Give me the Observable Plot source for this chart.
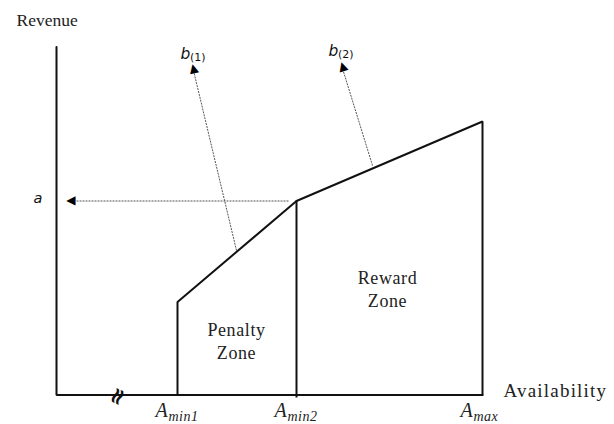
<!DOCTYPE html>
<html><head><meta charset="utf-8">
<script src="https://cdn.jsdelivr.net/npm/d3@7"></script>
<script src="https://cdn.jsdelivr.net/npm/@observablehq/plot@0.6"></script>
<style>
body{margin:0;background:#fff}
#chart svg{display:block}
</style>
</head><body><div id="chart"></div>
<script>
// Conceptual diagram data (x: availability units, y: revenue units)
const tickSubs = ["min1", "min2", "max"];
const availability = [121, 240, 426];      // A_min1, A_min2, A_max
const revenue = [93, 194, 273.5];          // revenue at A_min1, A_min2 (= a), A_max
const revenueAxisTop = 348;
const breakAt = 61;

const profile = [
  {x: availability[0], y: 0},
  {x: availability[0], y: revenue[0]},
  {x: availability[1], y: revenue[1]},
  {x: availability[2], y: revenue[2]},
  {x: availability[2], y: 0}
];
const axes = [
  {x: 0, y: revenueAxisTop},
  {x: 0, y: 0},
  {x: availability[2], y: 0}
];
const pointers = [
  {name: "a",    x1: 232, y1: 194,   x2: 19,  y2: 194,   hx: 14,  hy: 194,   rot: -90},
  {name: "b(1)", x1: 180, y1: 144.5, x2: 137, y2: 324.5, hx: 137, hy: 327,   rot: -13},
  {name: "b(2)", x1: 316, y1: 229.5, x2: 286, y2: 326.5, hx: 286, hy: 329,   rot: -17}
];
const pointerLabels = [
  {main: "b", sub: "(1)", x: 124, y: 336.5},
  {main: "b", sub: "(2)", x: 272, y: 339.5}
];
const zoneLabels = [
  {text: "Penalty\nZone", x: 180, y: 54.5},
  {text: "Reward\nZone", x: 331, y: 106.5}
];
const ticks = availability.map((v, i) => ({x: v, sub: tickSubs[i]}));

const chart = Plot.plot({
  width: 614, height: 424,
  marginLeft: 56, marginRight: 0, marginTop: 0, marginBottom: 29.5,
  x: {domain: [0, 558], axis: null},
  y: {domain: [0, 394.5], axis: null},
  style: {background: "white", overflow: "visible"},
  marks: [
    Plot.link(pointers, {x1: "x1", y1: "y1", x2: "x2", y2: "y2", stroke: "#555", strokeWidth: 1, strokeDasharray: "2,1"}),
    Plot.text(pointers, {x: "hx", y: "hy", text: () => "\u25B2", rotate: "rot", fontSize: 12, fill: "black", fontFamily: "DejaVu Sans"}),
    Plot.line(axes, {x: "x", y: "y", stroke: "#111", strokeWidth: 2, strokeLinejoin: "miter"}),
    Plot.line(profile, {x: "x", y: "y", stroke: "#111", strokeWidth: 2, strokeLinejoin: "miter"}),
    Plot.ruleX([availability[1]], {y1: -3, y2: revenue[1], stroke: "#111", strokeWidth: 2}),
    Plot.text([breakAt], {x: d => d, y: -1.5, text: () => "\u2248", rotate: -65, fontSize: 23, fontWeight: "bold", fill: "#111", fontFamily: "DejaVu Sans"}),
    Plot.text(zoneLabels, {x: "x", y: "y", text: "text", fontSize: 18, lineHeight: 1.25, fontFamily: "Liberation Serif", fill: "#222"}),
    Plot.text(["Revenue"], {x: -40, y: 369.5, text: d => d, textAnchor: "start", lineAnchor: "bottom", fontSize: 17.5, fontFamily: "Liberation Serif", fill: "#222"}),
    Plot.text(["Availability"], {x: 447, y: -1.5, text: d => d, textAnchor: "start", lineAnchor: "bottom", fontSize: 19, fontFamily: "Liberation Serif", fill: "#222"}),
    Plot.text(ticks, {x: "x", y: -22, dx: -22, text: () => "A", textAnchor: "start", lineAnchor: "bottom", fontSize: 20, fontStyle: "italic", fontFamily: "Liberation Serif", fill: "#222"}),
    Plot.text(ticks, {x: "x", y: -26, dx: -9, text: "sub", textAnchor: "start", lineAnchor: "bottom", fontSize: 14, fontStyle: "italic", fontFamily: "Liberation Serif", fill: "#222"}),
    Plot.text(["a"], {x: -23, y: 192.5, text: d => d, textAnchor: "start", lineAnchor: "bottom", fontSize: 14.5, fontStyle: "italic", fontFamily: "DejaVu Sans", fill: "#111"}),
    Plot.text(pointerLabels, {x: "x", y: "y", text: "main", textAnchor: "start", lineAnchor: "bottom", fontSize: 15.5, fontStyle: "italic", fontFamily: "DejaVu Sans", fill: "#111"}),
    Plot.text(pointerLabels, {x: "x", y: "y", dx: 9.5, dy: 2, text: "sub", textAnchor: "start", lineAnchor: "bottom", fontSize: 11, fontFamily: "DejaVu Sans", fill: "#111"})
  ]
});
// letter spacing to match the wide setting of the original typography
const spacing = {"Availability": "1.2px", "Penalty": "0.6px", "Reward": "0.6px", "Zone": "0.6px", "min1": "0.5px", "min2": "0.5px", "max": "0.5px"};
d3.select(chart).selectAll("text, tspan").each(function() {
  const t = this.textContent;
  if (this.childElementCount === 0 && spacing[t]) d3.select(this).style("letter-spacing", spacing[t]);
});
document.getElementById("chart").appendChild(chart);
</script>
</body></html>
